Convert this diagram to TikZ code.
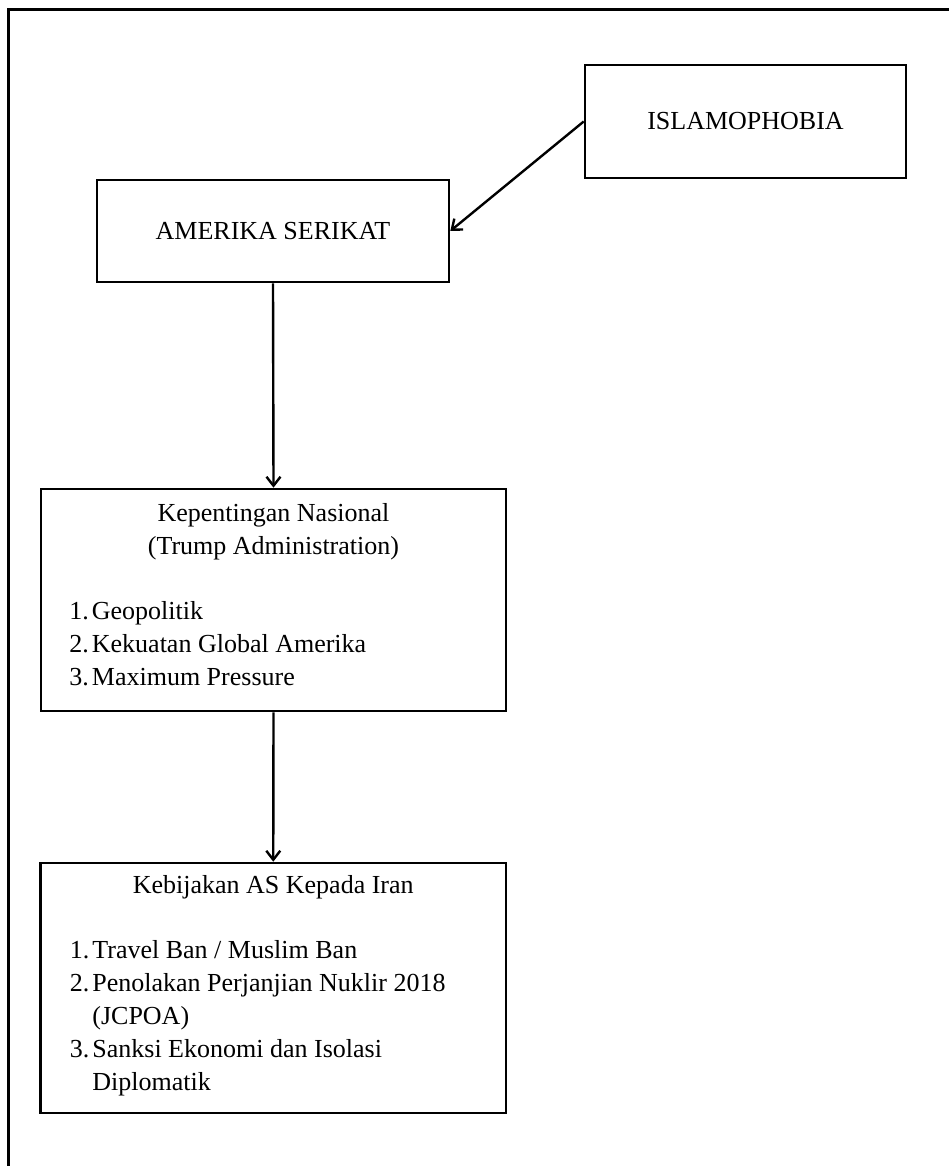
\documentclass[tikz,border=0pt]{standalone}
\usepackage{fontspec}
\setmainfont{Liberation Serif}
\usetikzlibrary{positioning, arrows.meta, calc}

\tikzset{
    box/.style={draw=black, line width=1.3pt, inner sep=0pt, font=\fontsize{13}{16.5}\selectfont},
    txt/.style={inner sep=0pt, font=\fontsize{13}{16.5}\selectfont},
    link/.style={-{Straight Barb[length=4.5pt, width=7pt]}, line width=1.2pt},
}

\begin{document}
\begin{tikzpicture}[x=0.5pt, y=-0.5pt]
        \useasboundingbox (0,0) rectangle (949,1166);

        % border
        \draw[black, line width=1.2pt] (8.5,1166) -- (8.5,9.5) -- (949,9.5);

        % boxes
        \node[box, minimum width=160.5pt, minimum height=56.5pt] (islam) at (745.5,121.5) {ISLAMOPHOBIA};
        \node[box, minimum width=176pt, minimum height=51pt] (amerika) at (273,231) {AMERIKA SERIKAT};
        \node[box, minimum width=232.5pt, minimum height=111pt] (kepentingan) at (273.5,600) {};
        \node[box, minimum width=232.75pt, minimum height=125pt] (kebijakan) at (273.25,988) {};

        % texts of the kepentingan box
        \node[txt, align=center] (keptitle) at (273.5,531.5) {Kepentingan Nasional\\(Trump Administration)};
        \node[txt, anchor=west] (keplist) at (69,646) {%
            \begin{tabular}{@{}l@{\hspace{1.5pt}}l@{}}
                1. & Geopolitik\\
                2. & Kekuatan Global Amerika\\
                3. & Maximum Pressure
            \end{tabular}};

        % texts of the kebijakan box
        \node[txt] (kebtitle) at (273.25,887) {Kebijakan AS Kepada Iran};
        \node[txt, anchor=west] (keblist) at (69.5,1018) {%
            \begin{tabular}{@{}l@{\hspace{1.5pt}}l@{}}
                1. & Travel Ban / Muslim Ban\\
                2. & Penolakan Perjanjian Nuklir 2018\\
                   & (JCPOA)\\
                3. & Sanksi Ekonomi dan Isolasi\\
                   & Diplomatik
            \end{tabular}};

        % arrows
        \draw[link] (islam.west) -- (amerika.east);
        \draw[link] (amerika.south) -- (kepentingan.north);
        \draw[link] (kepentingan.south) -- (kebijakan.north);
    \end{tikzpicture}
\end{document}
